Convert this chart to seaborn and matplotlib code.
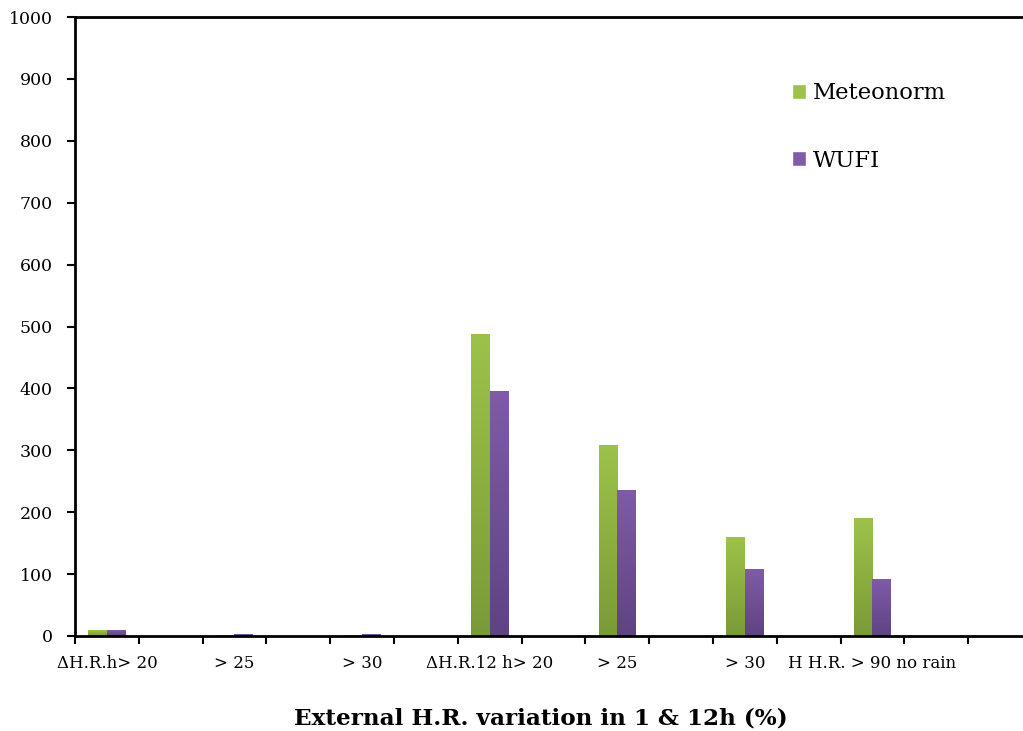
import numpy as np
import pandas as pd
import matplotlib
matplotlib.use("Agg")
import matplotlib.pyplot as plt
import seaborn as sns
from matplotlib.colors import LinearSegmentedColormap

# ---- data ----
categories = ["ΔH.R.h> 20", "> 25", "> 30", "ΔH.R.12 h> 20", "> 25", "> 30", "H H.R. > 90 no rain"]
meteonorm = [9, 1, 1, 488, 309, 160, 190]
wufi = [9, 4, 4, 396, 236, 108, 92]
series_names = ["Meteonorm", "WUFI"]
y_ticks = [0, 100, 200, 300, 400, 500, 600, 700, 800, 900, 1000]

# categories occupy every other slot on the category axis (Excel layout)
n_slots = 15
slots = [2 * i for i in range(len(categories))]

rows = []
for s, m, w in zip(slots, meteonorm, wufi):
    rows.append({"slot": s, "series": series_names[0], "value": m})
    rows.append({"slot": s, "series": series_names[1], "value": w})
df = pd.DataFrame(rows)

sns.set_theme(style="white")
plt.rcParams["font.family"] = ["DejaVu Serif"]
plt.rcParams["text.color"] = "black"
plt.rcParams["xtick.color"] = "black"
plt.rcParams["ytick.color"] = "black"

fig = plt.figure(figsize=(10.23, 7.31), dpi=100)
ax = fig.add_axes([75 / 1023, 95 / 731, 1 - 75 / 1023, (636 - 17) / 731])

light = {"Meteonorm": "#9dc24a", "WUFI": "#7f5ba8"}
dark = {"Meteonorm": "#7a9a38", "WUFI": "#5f4383"}

sns.barplot(data=df, x="slot", y="value", hue="series", order=list(range(n_slots)),
            hue_order=series_names, palette=light, width=0.58, gap=0,
            saturation=1, ax=ax, legend=True)

# vertical gradient fill, light on top, darker at bottom
for bar in list(ax.patches):
    h = bar.get_height()
    if not np.isfinite(h) or h <= 0:
        continue
    fc = bar.get_facecolor()
    key = min(light, key=lambda k: np.sum((np.array(matplotlib.colors.to_rgb(light[k])) - np.array(fc[:3])) ** 2))
    cmap = LinearSegmentedColormap.from_list("g", [dark[key], light[key]])
    grad = np.linspace(0, 1, 128).reshape(-1, 1)
    im = ax.imshow(grad, extent=[bar.get_x(), bar.get_x() + bar.get_width(), bar.get_y(), bar.get_y() + h],
                   origin="lower", aspect="auto", cmap=cmap, zorder=bar.get_zorder() + 0.1)
    im.set_clip_path(bar)

ax.set_xlim(-0.5, 14.36)
ax.set_ylim(0, 1000)
ax.set_yticks(y_ticks)
ax.set_yticklabels([str(v) for v in y_ticks], fontsize=12.5, color="black")

ax.set_xticks(slots)
ax.set_xticklabels(categories, fontsize=12, color="black")
ax.set_xticks([k - 0.5 for k in range(n_slots)], minor=True)
ax.tick_params(axis="x", which="major", length=0, pad=14, colors="black")
ax.tick_params(axis="x", which="minor", length=6, width=1.5, direction="out", bottom=True, color="black")
ax.tick_params(axis="y", which="major", length=6, width=1.5, direction="out", left=True, pad=10, colors="black")

for side in ["left", "bottom", "top"]:
    ax.spines[side].set_visible(True)
    ax.spines[side].set_color("black")
    ax.spines[side].set_linewidth(2)
ax.spines["right"].set_visible(False)
ax.grid(False)
ax.set_xlabel("")
ax.set_ylabel("")

handles, labels = ax.get_legend_handles_labels()
leg = ax.legend(handles, labels, loc="upper left", bbox_to_anchor=(772 / 1023, 1 - 62 / 731),
                bbox_transform=fig.transFigure, frameon=False, fontsize=16.3,
                handlelength=0.6, handleheight=0.6, handletextpad=0.3, labelspacing=2.0)
for t in leg.get_texts():
    t.set_color("black")

fig.text(541 / 1023, 1 - 718 / 731, "External H.R. variation in 1 & 12h (%)", ha="center", va="center",
         fontsize=16.7, fontweight="bold", color="black")

fig.savefig("out.png", dpi=100, facecolor="white")
